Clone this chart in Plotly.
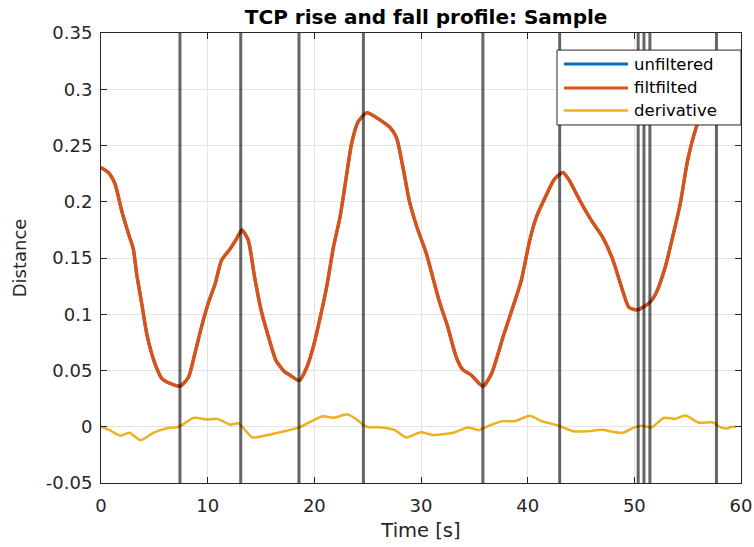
import plotly.graph_objects as go

# ---- data ----
time_f = [0.0, 0.06, 0.69, 1.31, 1.94, 2.56, 3.03, 3.34, 3.81, 4.28, 4.75, 5.22, 5.69, 6.47, 7.4,
          8.2, 8.8, 9.43, 10.06, 10.7, 11.3, 12.1, 12.7, 13.2, 13.8, 14.4, 15.0, 15.7, 16.4, 17.2,
          17.7, 18.6, 19.3, 19.9, 20.5, 21.15, 21.8, 22.4, 22.9, 23.5, 24.1, 24.9, 25.8, 27.1, 27.7,
          28.3, 28.9, 29.6, 30.5, 31.1, 31.7, 32.5, 33.3, 33.9, 34.7, 35.8, 36.6, 37.7, 38.6, 39.4,
          40.2, 40.8, 41.8, 42.5, 43.3, 43.9, 44.9, 46.0, 47.0, 48.0, 48.9, 49.5, 50.3, 51.4, 52.0,
          52.9, 53.6, 54.3, 55.0, 55.8, 56.8, 57.7, 58.4, 58.8, 59.4]
filtered = [0.230, 0.230, 0.226, 0.216, 0.192, 0.172, 0.158, 0.136, 0.110, 0.083, 0.065, 0.052, 0.043, 0.0385, 0.036,
            0.044, 0.065, 0.089, 0.110, 0.127, 0.148, 0.158, 0.167, 0.175, 0.166, 0.133, 0.104, 0.080, 0.059, 0.049,
            0.046, 0.041, 0.053, 0.071, 0.095, 0.124, 0.160, 0.186, 0.216, 0.252, 0.271, 0.279, 0.275, 0.266, 0.257,
            0.231, 0.201, 0.178, 0.154, 0.133, 0.112, 0.089, 0.062, 0.051, 0.046, 0.036, 0.047, 0.080, 0.106, 0.130,
            0.166, 0.186, 0.207, 0.220, 0.226, 0.219, 0.201, 0.183, 0.169, 0.148, 0.121, 0.106, 0.104, 0.110, 0.118,
            0.142, 0.169, 0.198, 0.237, 0.266, 0.290, 0.300, 0.301, 0.300, 0.300]
unfiltered = list(filtered)

time_d = [0.0, 0.8, 1.8, 2.65, 3.7, 4.9, 6.1, 7.3, 8.7, 9.9, 10.9, 12.1, 12.9, 14.2, 15.6, 17.2, 18.6,
          19.8, 20.8, 21.8, 23.1, 23.9, 24.9, 26.3, 27.5, 28.6, 29.9, 31.2, 33.0, 34.4, 35.4, 36.4,
          37.6, 38.8, 40.2, 41.3, 42.9, 44.3, 45.7, 46.9, 48.9, 50.0, 50.8, 51.6, 52.8, 53.8, 54.8,
          56.0, 57.4, 58.1, 58.7, 59.1, 59.5]
derivative = [0.0, -0.003, -0.008, -0.0054, -0.012, -0.0054, -0.0015, 0.0, 0.008, 0.0065, 0.007, 0.002, 0.003,
              -0.0095, -0.0074, -0.004, -0.0006, 0.0053, 0.0094, 0.008, 0.011, 0.007, 0.0, -0.0006, -0.0027,
              -0.0095, -0.005, -0.0074, -0.0054, -0.0006, -0.003, 0.001, 0.005, 0.005, 0.0098, 0.005, 0.001,
              -0.004, -0.004, -0.0027, -0.0054, -0.0006, 0.001, -0.0006, 0.008, 0.007, 0.010, 0.0038, 0.0038,
              -0.0006, -0.0015, 0.0, 0.0]

event_times = [7.4, 13.1, 18.56, 24.6, 35.8, 43.0, 50.36, 50.9, 51.46, 57.7]

x_ticks = [0, 10, 20, 30, 40, 50, 60]
y_ticks = [-0.05, 0, 0.05, 0.1, 0.15, 0.2, 0.25, 0.3, 0.35]
y_tick_text = ["-0.05", "0", "0.05", "0.1", "0.15", "0.2", "0.25", "0.3", "0.35"]

series_names = ["unfiltered", "filtfilted", "derivative"]
series_colors = ["#0072BD", "#D95319", "#EDB120"]

FONT = "DejaVu Sans, Liberation Sans, Arial, sans-serif"
AX = "#262626"

fig = go.Figure()
fig.add_trace(go.Scatter(x=time_f, y=unfiltered, mode="lines", name=series_names[0],
                         line=dict(color=series_colors[0], width=3, shape="spline", smoothing=0.6)))
fig.add_trace(go.Scatter(x=time_f, y=filtered, mode="lines", name=series_names[1],
                         line=dict(color=series_colors[1], width=3.5, shape="spline", smoothing=0.6)))
fig.add_trace(go.Scatter(x=time_d, y=derivative, mode="lines", name=series_names[2],
                         line=dict(color=series_colors[2], width=2.5, shape="spline", smoothing=0.6)))

for t in event_times:
    fig.add_shape(type="line", xref="x", yref="paper", x0=t, x1=t, y0=0, y1=1,
                  line=dict(color="rgba(0,0,0,0.6)", width=3), layer="above")

# custom MATLAB-style legend box (top right, inside axes)
leg_x0, leg_x1, leg_y0, leg_y1 = 0.7125, 1.0, 0.7956, 0.962
fig.add_shape(type="rect", xref="paper", yref="paper", x0=leg_x0, x1=leg_x1, y0=leg_y0, y1=leg_y1,
              line=dict(color=AX, width=1), fillcolor="white", layer="above")
row_y = [0.931, 0.878, 0.828]
for name, col, ry in zip(series_names, series_colors, row_y):
    fig.add_shape(type="line", xref="paper", yref="paper", x0=0.7234, x1=0.8234, y0=ry, y1=ry,
                  line=dict(color=col, width=3 if name != "derivative" else 2.5), layer="above")
    fig.add_annotation(xref="paper", yref="paper", x=0.829, y=ry, text=name, showarrow=False,
                       xanchor="left", yanchor="middle",
                       font=dict(family=FONT, size=16.5, color="black"))

axis_common = dict(showgrid=True, gridcolor="#e3e3e3", gridwidth=1, zeroline=False,
                   showline=True, linecolor=AX, linewidth=1, mirror="ticks",
                   ticks="inside", ticklen=6, tickcolor=AX, automargin=False,
                   tickfont=dict(family=FONT, size=18, color=AX))

fig.update_layout(
    width=754, height=547,
    margin=dict(l=101, r=13, t=33, b=64),
    paper_bgcolor="white", plot_bgcolor="white",
    showlegend=False,
    title=dict(text="<b>TCP rise and fall profile: Sample</b>", xref="paper", x=0.508, xanchor="center",
               y=0.969, yanchor="middle", font=dict(family=FONT, size=20, color="black")),
    xaxis=dict(range=[0, 60], tickvals=x_ticks, ticklabelstandoff=6,
               title=dict(text="Time [s]", standoff=8, font=dict(family=FONT, size=19.5, color=AX)),
               **axis_common),
    yaxis=dict(range=[-0.05, 0.35], tickvals=y_ticks, ticktext=y_tick_text, ticklabelstandoff=4,
               title=dict(text="Distance", standoff=14, font=dict(family=FONT, size=18, color=AX)),
               **axis_common),
)

fig.write_html("out.html")
